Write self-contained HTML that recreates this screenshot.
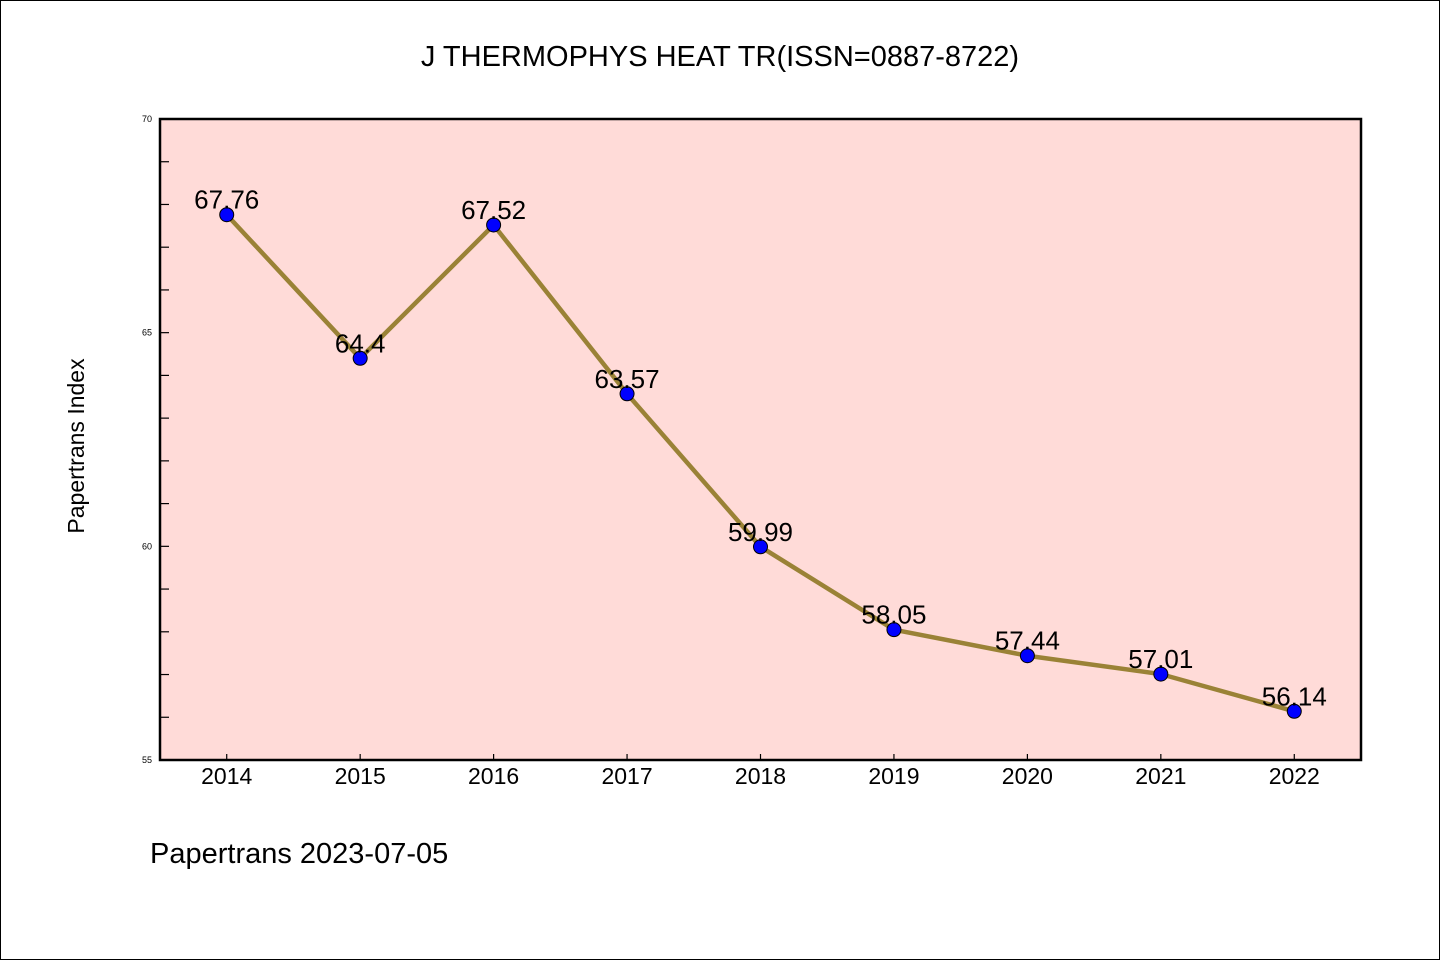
<!DOCTYPE html>
<html><head><meta charset="utf-8"><style>
html,body{margin:0;padding:0;background:#fff}
svg{display:block}
text{font-family:"WenQuanYi Zen Hei","Liberation Sans",sans-serif;fill:#000}
</style></head><body>
<svg id="chart" width="1440" height="960" viewBox="0 0 1440 960" xmlns="http://www.w3.org/2000/svg">
<rect x="0.5" y="0.5" width="1439" height="959" fill="#fff" stroke="#000" stroke-width="1"/>
<text x="720" y="66" font-size="29" text-anchor="middle">J THERMOPHYS HEAT TR(ISSN=0887-8722)</text>
<rect x="160" y="119" width="1201" height="641" fill="#ffdbd8"/>
<g id="ticks"></g>
<g id="marks"></g>
<rect x="160" y="119" width="1201" height="641" fill="none" stroke="#000" stroke-width="2.5"/>
<text transform="translate(84,446) rotate(-90)" font-size="23" text-anchor="middle">Papertrans Index</text>
<text x="150" y="863" font-size="29">Papertrans 2023-07-05</text>
</svg>
<script>
const years = [2014,2015,2016,2017,2018,2019,2020,2021,2022];
const values = [67.76,64.4,67.52,63.57,59.99,58.05,57.44,57.01,56.14];
const valueLabels = ["67.76","64.4","67.52","63.57","59.99","58.05","57.44","57.01","56.14"];
const yTickLabels = ["55","60","65","70"];
const yMajor = [55,60,65,70];
const NS="http://www.w3.org/2000/svg";
const x0=160,x1=1361,y0=760,y1=119;
const xs=v=>x0+(v-2013.5)/(9)*(x1-x0);
const ys=v=>y0-(v-55)/15*(y0-y1);
function mk(tag,attrs,parent){const e=document.createElementNS(NS,tag);for(const k in attrs)e.setAttribute(k,attrs[k]);parent.appendChild(e);return e;}
const tg=document.getElementById('ticks');
for(let v=55;v<=70;v++){
  const t=mk('line',{x1:x0,x2:x0+9,y1:ys(v),y2:ys(v),stroke:'#000','stroke-width':1.2},tg);
  
  
}
yMajor.forEach((v,i)=>{
  const t=mk('text',{x:x0-8,y:ys(v)+3,'font-size':9,'text-anchor':'end'},tg);
  t.textContent=yTickLabels[i];
  
  
});
years.forEach(yr=>{
  const l=mk('line',{x1:xs(yr),x2:xs(yr),y1:y0,y2:y0-6,stroke:'#000','stroke-width':1.2},tg);
  
  
  const t=mk('text',{x:xs(yr),y:784,'font-size':23,'text-anchor':'middle'},tg);
  t.textContent=String(yr);
  
  
});
const mg=document.getElementById('marks');
const pl=mk('polyline',{points:years.map((yr,i)=>xs(yr)+','+ys(values[i])).join(' '),fill:'none',stroke:'#9a8236','stroke-width':4.5,'stroke-linejoin':'round'},mg);


years.forEach((yr,i)=>{
  const c=mk('circle',{cx:xs(yr),cy:ys(values[i]),r:7,fill:'#0000ff',stroke:'#000','stroke-width':1},mg);
  
  
  const t=mk('text',{x:xs(yr),y:ys(values[i])-6,'font-size':26,'text-anchor':'middle'},mg);
  t.textContent=valueLabels[i];
  
  
});
</script>
</body></html>
